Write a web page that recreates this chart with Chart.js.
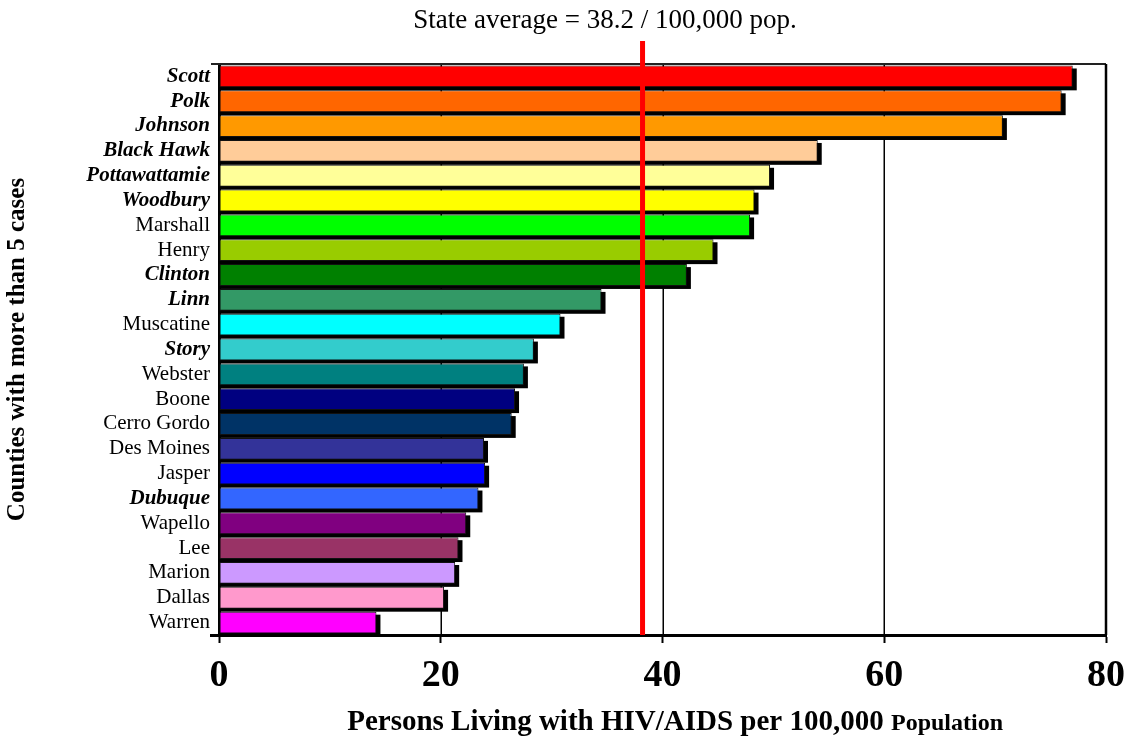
<!DOCTYPE html>
<html>
<head>
<meta charset="utf-8">
<script src="https://cdn.jsdelivr.net/npm/chart.js@4/dist/chart.umd.min.js"></script>
<style>
  html, body { margin: 0; padding: 0; background: #fff; }
  #wrap { width: 1128px; height: 744px; }
</style>
</head>
<body>
<div id="wrap"><canvas id="c" width="1128" height="744"></canvas></div>
<script>
// Persons living with HIV/AIDS per 100,000 population, counties with more than 5 cases
const counties = [
  'Scott', 'Polk', 'Johnson', 'Black Hawk', 'Pottawattamie', 'Woodbury',
  'Marshall', 'Henry', 'Clinton', 'Linn', 'Muscatine', 'Story', 'Webster',
  'Boone', 'Cerro Gordo', 'Des Moines', 'Jasper', 'Dubuque', 'Wapello',
  'Lee', 'Marion', 'Dallas', 'Warren'
];
const ratePer100k = [
  77.0, 76.0, 70.7, 54.0, 49.7, 48.3,
  47.9, 44.6, 42.2, 34.5, 30.8, 28.4, 27.5,
  26.7, 26.4, 23.9, 24.0, 23.4, 22.3,
  21.6, 21.3, 20.3, 14.2
];
// counties set in bold italic on the category axis
const metroCounties = [
  'Scott', 'Polk', 'Johnson', 'Black Hawk', 'Pottawattamie', 'Woodbury',
  'Clinton', 'Linn', 'Story', 'Dubuque'
];
const stateAverage = 38.2;
const xTicks = [0, 20, 40, 60, 80];

const palette = [
  '#FF0000', '#FF6600', '#FF9900', '#FFCC99', '#FFFF99', '#FFFF00',
  '#00FF00', '#99CC00', '#008000', '#339966', '#00FFFF', '#33CCCC', '#008080',
  '#000080', '#003366', '#333399', '#0000FF', '#3366FF', '#800080',
  '#993366', '#CC99FF', '#FF99CC', '#FF00FF'
];

const SERIF = '"Liberation Serif", "Times New Roman", serif';

// vertical grid lines and bar drop shadows, both painted under the bars
const underBars = {
  id: 'underBars',
  beforeDatasetsDraw(chart) {
    const ctx = chart.ctx;
    const area = chart.chartArea;
    const xs = chart.scales.x;
    ctx.save();
    ctx.strokeStyle = '#000';
    ctx.lineWidth = 1.5;
    xTicks.filter(v => v > 0 && v < xs.max).forEach(v => {
      const px = Math.round(xs.getPixelForValue(v)) + 0.25;
      ctx.beginPath();
      ctx.moveTo(px, area.top);
      ctx.lineTo(px, area.bottom);
      ctx.stroke();
    });
    ctx.fillStyle = '#000';
    chart.getDatasetMeta(0).data.forEach(bar => {
      const p = bar.getProps(['x', 'y', 'base', 'height'], true);
      const top = p.y - p.height / 2;
      ctx.fillRect(p.base, top + 3, (p.x - p.base) + 4, p.height);
    });
    ctx.restore();
  }
};

// frame, state-average marker and free text
const decorations = {
  id: 'decorations',
  afterDatasetsDraw(chart) {
    const ctx = chart.ctx;
    const area = chart.chartArea;
    const xs = chart.scales.x;
    ctx.save();
    // top frame, with the category axis end tick reaching left
    ctx.strokeStyle = '#222';
    ctx.lineWidth = 2;
    ctx.beginPath();
    ctx.moveTo(area.left - 8, area.top);
    ctx.lineTo(area.right, area.top);
    ctx.stroke();
    // category axis end tick at the bottom
    ctx.strokeStyle = '#000';
    ctx.lineWidth = 3;
    ctx.beginPath();
    ctx.moveTo(area.left - 9, area.bottom + 0.5);
    ctx.lineTo(area.left, area.bottom + 0.5);
    ctx.stroke();
    // right frame
    ctx.lineWidth = 2.5;
    ctx.beginPath();
    ctx.moveTo(area.right, area.top);
    ctx.lineTo(area.right, area.bottom);
    ctx.stroke();
    // state average line
    const ax = xs.getPixelForValue(stateAverage);
    ctx.fillStyle = '#FF0000';
    ctx.fillRect(ax - 2.5, 41, 5, area.bottom - 41);
    ctx.restore();
  },
  afterDraw(chart) {
    const ctx = chart.ctx;
    ctx.save();
    ctx.fillStyle = '#000';
    ctx.textBaseline = 'middle';
    ctx.textAlign = 'center';
    ctx.font = '27px ' + SERIF;
    ctx.fillText('State average = ' + stateAverage + ' / 100,000 pop.', 605, 21);

    // x-axis title, last word in a smaller size
    const partA = 'Persons Living with HIV/AIDS per 100,000 ';
    const partB = 'Population';
    const fontA = 'bold 29px ' + SERIF;
    const fontB = 'bold 24px ' + SERIF;
    ctx.font = fontA;
    const wA = ctx.measureText(partA).width;
    ctx.font = fontB;
    const wB = ctx.measureText(partB).width;
    const startX = 1003 - (wA + wB);
    ctx.textAlign = 'left';
    ctx.textBaseline = 'alphabetic';
    ctx.font = fontA;
    ctx.fillText(partA, startX, 730);
    ctx.font = fontB;
    ctx.fillText(partB, startX + wA, 730);
    ctx.restore();
  }
};

new Chart(document.getElementById('c'), {
  type: 'bar',
  data: {
    labels: counties,
    datasets: [{
      data: ratePer100k,
      backgroundColor: palette,
      borderColor: '#111',
      borderWidth: 1,
      borderSkipped: false,
      barPercentage: 0.88,
      categoryPercentage: 1.0
    }]
  },
  options: {
    indexAxis: 'y',
    responsive: false,
    animation: false,
    devicePixelRatio: 1,
    layout: { padding: { top: 64, right: 0, left: 0, bottom: 0 } },
    plugins: {
      legend: { display: false },
      tooltip: { enabled: false }
    },
    scales: {
      x: {
        type: 'linear',
        min: 0,
        max: 80,
        afterBuildTicks(scale) { scale.ticks = xTicks.map(v => ({ value: v })); },
        afterFit(scale) {
          scale.height = 744 - 635;
          scale.paddingLeft = 0;
          scale.paddingRight = 1128 - 1106;
        },
        border: { display: true, color: '#000', width: 3 },
        grid: {
          drawOnChartArea: false,
          color: '#000',
          tickColor: '#000',
          tickWidth: 2,
          tickLength: 8
        },
        ticks: {
          color: '#000',
          padding: 10,
          font: { family: SERIF, size: 38, weight: 'bold' },
          maxRotation: 0
        }
      },
      y: {
        afterFit(scale) { scale.width = 219; },
        border: { display: true, color: '#000', width: 3 },
        grid: { display: false, drawTicks: false },
        ticks: {
          color: '#000',
          padding: 9,
          autoSkip: false,
          font: ctx => {
            const name = counties[ctx.index];
            const metro = metroCounties.includes(name);
            return {
              family: SERIF,
              size: 21,
              weight: metro ? 'bold' : 'normal',
              style: metro ? 'italic' : 'normal'
            };
          }
        },
        title: {
          display: true,
          text: 'Counties with more than 5 cases',
          color: '#000',
          font: { family: SERIF, size: 25, weight: 'bold' },
          padding: { top: 3, bottom: 0 }
        }
      }
    }
  },
  plugins: [underBars, decorations]
});
</script>
</body>
</html>
